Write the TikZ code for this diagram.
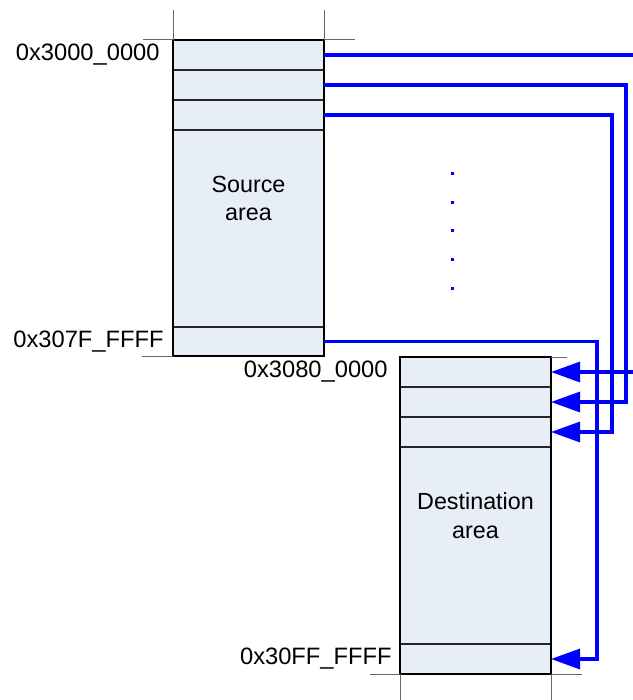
\documentclass[tikz,border=0pt]{standalone}
\usepackage{fontspec}
\setmainfont{Liberation Sans}
\usetikzlibrary{positioning,arrows.meta}

\definecolor{cellfill}{RGB}{232,238,247}

\tikzset{
  cell/.style={draw=black!85, line width=0.6bp, fill=cellfill, inner sep=0, outer sep=0,
    minimum width=75.5bp},
  frame/.style={draw=black, line width=1bp},
  tick/.style={draw=black!60, line width=0.5bp},
  addr/.style={inner sep=0, font=\fontsize{11.9}{14.5}\selectfont},
  areatext/.style={align=center, inner sep=0, font=\fontsize{11.7}{14.5}\selectfont},
  link/.style={draw=blue, line width=1.6bp},
  tip/.style={-{Triangle[length=14.5bp, width=10bp]}}
}

\begin{document}
\begin{tikzpicture}[x=0.5bp, y=-0.5bp]
\useasboundingbox (0,0) rectangle (633,700);

% source area
\node[cell, minimum height=15bp]   (s1)    at (248.5,55)    {};
\node[cell, minimum height=15bp]   (s2)    at (248.5,85)    {};
\node[cell, minimum height=15bp]   (s3)    at (248.5,115)   {};
\node[cell, minimum height=98.5bp] (sbody) at (248.5,228.5) {};
\node[cell, minimum height=14.5bp] (slast) at (248.5,341.5) {};
\draw[frame] (s1.north west) rectangle (slast.south east);
\node[areatext] (srctext) at ([yshift=15bp]sbody.center) {Source\\area};

% destination area
\node[cell, minimum height=15bp]   (d1)    at (475.5,372)   {};
\node[cell, minimum height=15bp]   (d2)    at (475.5,402)   {};
\node[cell, minimum height=15bp]   (d3)    at (475.5,432)   {};
\node[cell, minimum height=98.5bp] (dbody) at (475.5,545.5) {};
\node[cell, minimum height=15bp]   (dlast) at (475.5,659)   {};
\draw[frame] (d1.north west) rectangle (dlast.south east);
\node[areatext] (dsttext) at ([yshift=15bp]dbody.center) {Destination\\area};

% address labels
\node[addr, left=6.5bp of s1]    (a1) {0x3000\_0000};
\node[addr, left=4.5bp of slast] (a2) {0x307F\_FFFF};
\node[addr, left=6bp of d1]      (a3) {0x3080\_0000};
\node[addr, left=4bp of dlast]   (a4) {0x30FF\_FFFF};

% ticks
\draw[tick] (s1.north west) -- ++(0,-30);
\draw[tick] (s1.north east) -- ++(0,-30);
\draw[tick] (s1.north west) -- ++(-30,0);
\draw[tick] (s1.north east) -- ++(31,0);
\draw[tick] (slast.south west) -- ++(-31,0);
\draw[tick] (d1.north east) -- ++(16,0);
\draw[tick] (dlast.south west) -- ++(-30,0);
\draw[tick] (dlast.south east) -- ++(31,0);
\draw[tick] (dlast.south west) -- ++(0,26);
\draw[tick] (dlast.south east) -- ++(0,26);

% copy lines
\coordinate (bus1) at (641,0);
\coordinate (bus2) at (626,0);
\coordinate (bus3) at (612,0);
\coordinate (bus4) at (597,0);
\draw[link, tip] (s1.east) -| (bus1 |- d1.east) -- (d1.east);
\draw[link, tip] (s2.east) -| (bus2 |- d2.east) -- (d2.east);
\draw[link, tip] (s3.east) -| (bus3 |- d3.east) -- (d3.east);
\draw[link, tip] (slast.east) -| (bus4 |- dlast.east) -- (dlast.east);

% dots
\foreach \y in {173,202,230,259,288}
  \fill[blue] (452,\y) +(-1.5,-1.5) rectangle +(1.5,1.5);
\end{tikzpicture}
\end{document}
